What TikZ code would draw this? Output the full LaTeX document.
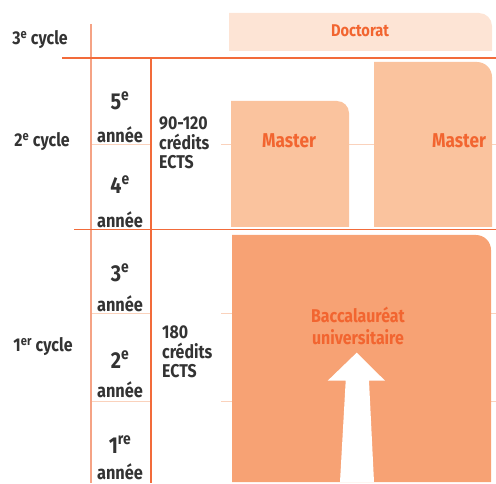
\documentclass[tikz,border=0pt]{standalone}
\usepackage{fontspec}
\setmainfont{Fira Sans}[FakeStretch=0.86]
\usepackage{tikz}
\usepackage{xcolor}
\definecolor{dark}{HTML}{333333}
\definecolor{sepline}{HTML}{F26B3A}
\definecolor{lightline}{HTML}{F5A385}
\definecolor{gridline}{HTML}{FAD2BC}
\definecolor{doctfill}{HTML}{FDE4D5}
\definecolor{mastfill}{HTML}{FAC39E}
\definecolor{bacfill}{HTML}{F7A274}
\definecolor{orangetxt}{HTML}{F26530}
\tikzset{
	cyc/.style={font=\fontsize{18.5}{21}\selectfont\bfseries, text=dark},
	yr/.style={font=\fontsize{23}{26}\selectfont\bfseries, text=dark},
	an/.style={font=\fontsize{19}{21}\selectfont\bfseries, text=dark},
	ects/.style={font=\fontsize{18.5}{19.5}\selectfont\bfseries, text=dark, align=left, anchor=west, inner sep=0pt},
	lbl/.style={font=\fontsize{#1}{22}\selectfont\bfseries, text=orangetxt, align=center},
	lbl/.default=17
}

\begin{document}
\begin{tikzpicture}[x=1pt,y=1pt]
	\useasboundingbox (0,0) rectangle (496,483);
	%grid lines
	\draw[gridline, line width=0.8pt] (91,339)--(151,339) (221,339)--(496,339);
	\draw[gridline, line width=0.8pt] (91,170)--(151,170) (221,170)--(496,170);
	\draw[gridline, line width=0.8pt] (91,82)--(151,82) (221,82)--(496,82);
	%boxes
	\fill[doctfill] (229,432) -- (229,470) -- (479,470) arc[start angle=90, end angle=0, radius=13] -- (492,432) -- cycle;
	\fill[mastfill] (231,256) -- (231,382) -- (337,382) arc[start angle=90, end angle=0, radius=12] -- (349,256) -- cycle;
	\fill[mastfill] (374,256) -- (374,421) -- (477,421) arc[start angle=90, end angle=0, radius=15] -- (492,256) -- cycle;
	\fill[bacfill] (232,1) -- (232,248) -- (476,248) arc[start angle=90, end angle=0, radius=15] -- (491,1) -- cycle;
	%arrow
	\fill[white] (340,1) -- (345.7,102.3) -- (327.7,102.3) -- (356.7,130.3) -- (385,102.3) -- (369,102.3) -- (374,1) -- cycle;
	%separators
	\draw[lightline, line width=1.2pt] (91,459)--(91,0);
	\draw[sepline, line width=1.2pt] (151,425)--(151,0);
	\draw[sepline, line width=1.2pt] (62,425)--(496,425);
	\draw[sepline, line width=1.2pt] (74,253.5)--(496,253.5);
	%cycles
	\node[cyc] (cycle3) at (40,443) {3\textsuperscript{e} cycle};
	\node[cyc] (cycle2) at (42,341) {2\textsuperscript{e} cycle};
	\node[cyc] (cycle1) at (43,136) {1\textsuperscript{er} cycle};
	%years
	\node[yr] (y5) at (120,382) {5\textsuperscript{e}};
	\node[an] (a5) at (120,348) {année};
	\node[yr] (y4) at (120,298) {4\textsuperscript{e}};
	\node[an] (a4) at (120,263) {année};
	\node[yr] (y3) at (120,210) {3\textsuperscript{e}};
	\node[an] (a3) at (120,179) {année};
	\node[yr] (y2) at (120,123) {2\textsuperscript{e}};
	\node[an] (a2) at (120,93) {année};
	\node[yr] (y1) at (120,38) {1\textsuperscript{re}};
	\node[an, anchor=base, inner sep=0pt] (a1) at (120,3.5) {année};
	%credits
	\node[ects] (ects2) at (159,340) {90-120\\crédits\\ECTS};
	\node[ects] (ects1) at (162,131) {180\\crédits\\ECTS};
	%degrees
	\node[lbl] (doct) at (360,452) {Doctorat};
	\node[lbl=20] (mast1) at (289,342) {Master};
	\node[lbl=20] (mast2) at (459,342) {Master};
	\node[lbl=18.5] (bac) at (358,157) {Baccalauréat\\universitaire};
\end{tikzpicture}
\end{document}
